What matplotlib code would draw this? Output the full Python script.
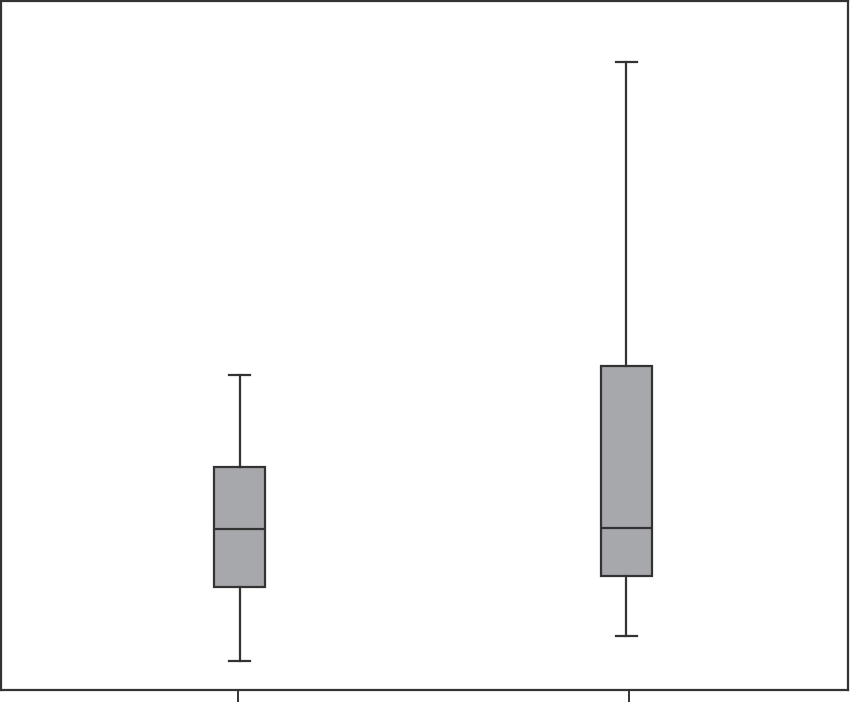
import matplotlib
matplotlib.use("Agg")
import matplotlib.pyplot as plt

# values (arbitrary units)
groups = ["A", "B"]
whislo = [28.5, 53.5]
q1 = [102.5, 113.5]
med = [160.5, 161.5]
q3 = [222.5, 323.5]
whishi = [314.5, 627.5]

W, H = 850, 702
fig = plt.figure(figsize=(W / 100, H / 100), dpi=100)
ax = fig.add_axes([1 / W, 1 - 689.5 / H, 847 / W, 688.5 / H])

stats = [dict(label=g, whislo=a, q1=b, med=c, q3=d, whishi=e, fliers=[])
         for g, a, b, c, d, e in zip(groups, whislo, q1, med, q3, whishi)]
col = "#333333"
ax.bxp(stats, positions=[239.5, 626], widths=51, patch_artist=True,
       showfliers=False,
       boxprops=dict(facecolor="#a7a8ac", edgecolor=col, linewidth=1.6),
       medianprops=dict(color=col, linewidth=1.6),
       whiskerprops=dict(color=col, linewidth=1.6),
       capprops=dict(color=col, linewidth=1.6),
       capwidths=21)

ax.set_xlim(1, 848)
ax.set_ylim(0, 688.5)
ax.set_xticks([237.5, 629])
ax.set_xticklabels(["", ""])
ax.set_yticks([])
ax.tick_params(axis="x", length=8.5, width=1.4, color=col)
for s in ax.spines.values():
    s.set_color(col)
    s.set_linewidth(1.6)
fig.savefig("out.png", dpi=100)
